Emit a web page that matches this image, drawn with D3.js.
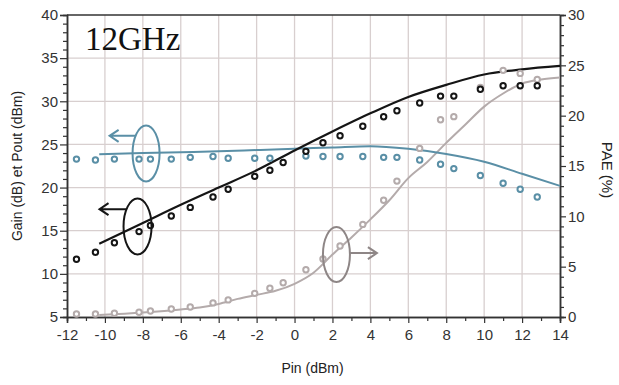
<!DOCTYPE html>
<html>
<head>
<meta charset="utf-8">
<script src="https://cdn.jsdelivr.net/npm/d3@7"></script>
<style>
  html, body { margin: 0; padding: 0; background: #fff; }
  svg { display: block; }
  text { font-family: Arial, "Liberation Sans", sans-serif; }
</style>
</head>
<body>
<svg id="chart" width="619" height="385"></svg>
<script>
// Measured points (input power, dBm)
const pinMeas  = [-11.5, -10.5, -9.5, -8.2, -7.6, -6.5, -5.5, -4.3, -3.5, -2.1, -1.3, -0.6, 0.6, 1.5, 2.4, 3.6, 4.7, 5.4, 6.6, 7.7, 8.4, 9.8, 11.0, 11.9, 12.8];
const poutMeas = [11.7, 12.5, 13.6, 14.9, 15.6, 16.7, 17.7, 18.9, 19.8, 21.3, 22.0, 22.9, 24.2, 25.2, 26.0, 27.1, 28.2, 28.9, 29.8, 30.6, 30.6, 31.4, 31.8, 31.8, 31.8];
const gainMeas = [23.3, 23.2, 23.3, 23.3, 23.3, 23.3, 23.5, 23.6, 23.4, 23.4, 23.4, null, 23.65, 23.6, 23.6, 23.6, 23.5, 23.5, 23.2, 22.7, 22.2, 21.4, 20.5, 19.8, 18.9];
const paeMeas  = [0.3, 0.3, 0.37, 0.47, 0.6, 0.8, 1.0, 1.4, 1.7, 2.35, 2.85, 3.4, 4.7, 5.76, 7.05, 9.2, 11.6, 13.5, 16.75, 19.6, 19.9, 22.8, 24.5, 24.2, 23.6];

// Simulated curves
const pinSim  = [-10.3, -8, -6, -4, -2, 0, 2, 4, 6, 8, 10, 12, 14];
const poutSim = [13.5, 15.9, 18.0, 20.0, 22.0, 24.3, 26.5, 28.6, 30.5, 31.9, 33.1, 33.7, 34.1];
const gainSim = [23.85, 24.0, 24.1, 24.2, 24.35, 24.5, 24.65, 24.8, 24.5, 23.9, 23.0, 21.6, 20.2];
const pinPaeSim = [-10.3, -8, -6, -5, -4, -3, -2, -1, 0, 1, 2, 3, 4, 5, 6, 7, 8, 9, 10, 11, 12, 13, 14];
const paeSim    = [0.2, 0.45, 0.75, 0.95, 1.3, 1.8, 2.2, 2.6, 3.3, 4.4, 6.2, 7.9, 9.7, 11.6, 13.8, 15.4, 17.3, 19.1, 20.9, 22.2, 23.2, 23.6, 23.8];

// Axis ticks
const xTicks = [-12, -10, -8, -6, -4, -2, 0, 2, 4, 6, 8, 10, 12, 14];
const leftTicks = [5, 10, 15, 20, 25, 30, 35, 40];
const rightTicks = [0, 5, 10, 15, 20, 25, 30];

const svg = d3.select("#chart");
const m = { left: 67, right: 560, top: 15, bottom: 317 };

const x = d3.scaleLinear().domain([-12, 14]).range([m.left, m.right]);
const yL = d3.scaleLinear().domain([5, 40]).range([m.bottom, m.top]);
const yR = d3.scaleLinear().domain([0, 30]).range([m.bottom, m.top]);

const gridColor = "#d8cfcf";
const blue = "#5a8fa6";
const black = "#151515";
const grey = "#b4abab";
const greyDark = "#8e8686";
const plain = d => String(d);

// Grid
const grid = svg.append("g");
grid.selectAll("line.v").data(xTicks.slice(1, -1)).join("line")
  .attr("x1", d => x(d)).attr("x2", d => x(d))
  .attr("y1", m.top).attr("y2", m.bottom)
  .attr("stroke", gridColor).attr("stroke-width", 1.3);
grid.selectAll("line.h").data(leftTicks.slice(1, -1)).join("line")
  .attr("x1", m.left).attr("x2", m.right)
  .attr("y1", d => yL(d)).attr("y2", d => yL(d))
  .attr("stroke", gridColor).attr("stroke-width", 1.3);

// Axes
function styleAxis(g) {
  g.select(".domain").attr("stroke", "#333").attr("stroke-width", 1.5);
  g.selectAll(".tick line").attr("stroke", "#333").attr("stroke-width", 1.2);
  g.selectAll(".tick text").attr("fill", "#333").style("font-size", "15px");
}

// minor ticks
svg.append("g").attr("transform", `translate(0,${m.bottom})`)
  .call(d3.axisBottom(x).tickValues(d3.range(-11, 14, 2)).tickSize(4).tickFormat(""))
  .call(styleAxis);
svg.append("g").attr("transform", `translate(${m.left},0)`)
  .call(d3.axisLeft(yL).tickValues(d3.range(6, 40, 1).filter(v => v % 5 !== 0)).tickSize(4).tickFormat(""))
  .call(styleAxis);
svg.append("g").attr("transform", `translate(${m.right},0)`)
  .call(d3.axisRight(yR).tickValues(d3.range(1, 30, 1).filter(v => v % 5 !== 0)).tickSize(4).tickFormat(""))
  .call(styleAxis);

// major ticks
svg.append("g").attr("transform", `translate(0,${m.bottom})`)
  .call(d3.axisBottom(x).tickValues(xTicks).tickSize(6).tickPadding(6).tickFormat(plain))
  .call(styleAxis);
svg.append("g").attr("transform", `translate(${m.left},0)`)
  .call(d3.axisLeft(yL).tickValues(leftTicks).tickSize(7).tickPadding(2).tickFormat(plain))
  .call(styleAxis);
svg.append("g").attr("transform", `translate(${m.right},0)`)
  .call(d3.axisRight(yR).tickValues(rightTicks).tickSize(6).tickPadding(2).tickFormat(plain))
  .call(styleAxis);

// Top frame line
svg.append("line").attr("x1", m.left).attr("x2", m.right).attr("y1", m.top).attr("y2", m.top)
  .attr("stroke", "#333").attr("stroke-width", 1.5);

// Axis titles
svg.append("text").attr("transform", `translate(22,${(m.top + m.bottom) / 2}) rotate(-90)`)
  .attr("text-anchor", "middle").attr("fill", "#222").style("font-size", "14px")
  .text("Gain (dB) et Pout (dBm)");
svg.append("text").attr("transform", `translate(602,${(m.top + m.bottom) / 2 + 4}) rotate(90)`)
  .attr("text-anchor", "middle").attr("fill", "#222").style("font-size", "15px")
  .text("PAE (%)");
svg.append("text").attr("x", (m.left + m.right) / 2 - 1).attr("y", 373)
  .attr("text-anchor", "middle").attr("fill", "#222").style("font-size", "14px")
  .text("Pin (dBm)");

// Title
svg.append("text").attr("x", 85).attr("y", 50)
  .style("font-family", "'Liberation Serif', 'Times New Roman', serif")
  .style("font-size", "33px").attr("fill", "#111").text("12GHz");

// Simulated curves
const simLine = (ys, yScale, xs) => d3.line()
  .x((d, i) => x(xs[i])).y(d => yScale(d)).curve(d3.curveMonotoneX)(ys);

svg.append("path").attr("d", simLine(paeSim, yR, pinPaeSim))
  .attr("fill", "none").attr("stroke", grey).attr("stroke-width", 2);
svg.append("path").attr("d", simLine(gainSim, yL, pinSim))
  .attr("fill", "none").attr("stroke", blue).attr("stroke-width", 2);
svg.append("path").attr("d", simLine(poutSim, yL, pinSim))
  .attr("fill", "none").attr("stroke", black).attr("stroke-width", 2.2);

// Measured markers
function markers(vals, yScale, color) {
  const pts = pinMeas.map((p, i) => [p, vals[i]]).filter(d => d[1] != null);
  svg.append("g").selectAll("circle").data(pts).join("circle")
    .attr("cx", d => x(d[0])).attr("cy", d => yScale(d[1]))
    .attr("r", 2.7).attr("fill", "#fff")
    .attr("stroke", color).attr("stroke-width", 2);
}
markers(paeMeas, yR, grey);
markers(gainMeas, yL, blue);
markers(poutMeas, yL, black);

// Legend ellipses with arrows pointing to their axis
function ellipseArrow(cx, cy, rx, ry, ay, len, dir, color) {
  svg.append("ellipse").attr("cx", cx).attr("cy", cy).attr("rx", rx).attr("ry", ry)
    .attr("fill", "none").attr("stroke", color).attr("stroke-width", 2);
  // arrow starts at the ellipse outline on the arrow's height
  const t = Math.max(-1, Math.min(1, (ay - cy) / ry));
  const ax1 = cx + dir * rx * Math.sqrt(1 - t * t);
  const ax2 = ax1 + dir * len;
  svg.append("path")
    .attr("d", `M${ax1},${ay}L${ax2},${ay}M${ax2 - dir * 9},${ay - 6}L${ax2},${ay}L${ax2 - dir * 9},${ay + 6}`)
    .attr("fill", "none").attr("stroke", color).attr("stroke-width", 2);
}
ellipseArrow(x(-7.83), yL(23.95), 13.5, 28, yL(26.0), 26, -1, blue);
ellipseArrow(x(-8.28), yL(15.5), 14, 28, yL(17.5), 27, -1, black);
ellipseArrow(x(2.21), yR(6.2), 13.5, 27.5, yR(6.35), 27, 1, greyDark);
</script>
</body>
</html>
